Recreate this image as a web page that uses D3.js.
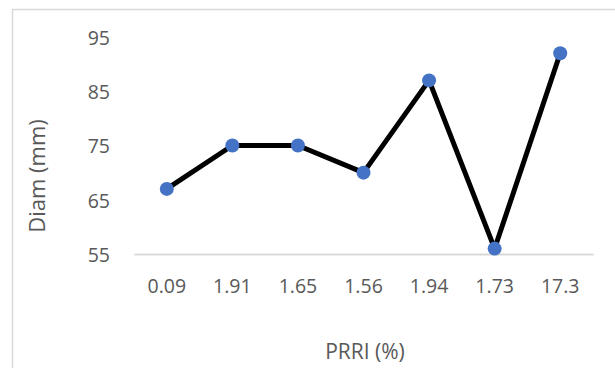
<!DOCTYPE html>
<html>
<head>
<meta charset="utf-8">
<script src="https://cdn.jsdelivr.net/npm/d3@7"></script>
<style>
  body { margin: 0; background: #fff; }
  text { font-family: "Open Sans", "Liberation Sans", sans-serif; fill: #595959; }
</style>
</head>
<body>
<div id="chart"></div>
<script>
const categories = ["0.09", "1.91", "1.65", "1.56", "1.94", "1.73", "17.3"];
const diam = [67, 75, 75, 70, 87, 56, 92];
const yTicks = [55, 65, 75, 85, 95];

let W = 615, H = 368;
let margin = {top: 37, right: 22, bottom: 114, left: 134};

let svg = d3.select("#chart")
    .append("svg")
        .attr("width", W)
        .attr("height", H);

// chart area border (only top and left visible in picture)
svg.append("path")
    .attr("d", `M12.5,${H} L12.5,9.5 L${W},9.5`)
    .attr("fill", "none")
    .attr("stroke", "#d9d9d9")
    .attr("stroke-width", 1.5);

let x = d3.scaleBand()
    .domain(categories)
    .range([margin.left, W - margin.right]);

let y = d3.scaleLinear()
    .domain([55, 95])
    .range([H - margin.bottom, margin.top]);

// x axis
let xAxis = svg.append("g")
    .attr("transform", `translate(0,${y(55)})`)
    .call(d3.axisBottom(x).tickSize(0).tickPadding(25));
xAxis.select(".domain").attr("stroke", "#d9d9d9").attr("stroke-width", 2);
xAxis.selectAll("text").style("font-size", "19.5px").attr("fill", "#595959");

// y axis
let yAxis = svg.append("g")
    .attr("transform", `translate(${margin.left},1)`)
    .call(d3.axisLeft(y).tickValues(yTicks).tickSize(0).tickPadding(24));
yAxis.select(".domain").remove();
yAxis.selectAll("text").style("font-size", "19.5px").attr("fill", "#595959");

// titles
svg.append("text")
    .attr("x", 365)
    .attr("y", 359)
    .attr("text-anchor", "middle")
    .style("font-size", "21px")
    .text("PRRI (%)");

svg.append("text")
    .attr("transform", "translate(45,176) rotate(-90)")
    .attr("text-anchor", "middle")
    .style("font-size", "22px")
    .text("Diam (mm)");

let data = categories.map((c, i) => ({cat: c, val: diam[i]}));

let line = d3.line()
    .x(d => x(d.cat) + x.bandwidth() / 2)
    .y(d => y(d.val));

svg.append("path")
    .datum(data)
    .attr("fill", "none")
    .attr("stroke", "black")
    .attr("stroke-width", 5)
    .attr("stroke-linejoin", "round")
    .attr("d", line);

svg.append("g")
    .selectAll("circle")
    .data(data)
    .enter()
    .append("circle")
        .attr("cx", d => x(d.cat) + x.bandwidth() / 2)
        .attr("cy", d => y(d.val))
        .attr("r", 7)
        .attr("fill", "#4472c4");
</script>
</body>
</html>
